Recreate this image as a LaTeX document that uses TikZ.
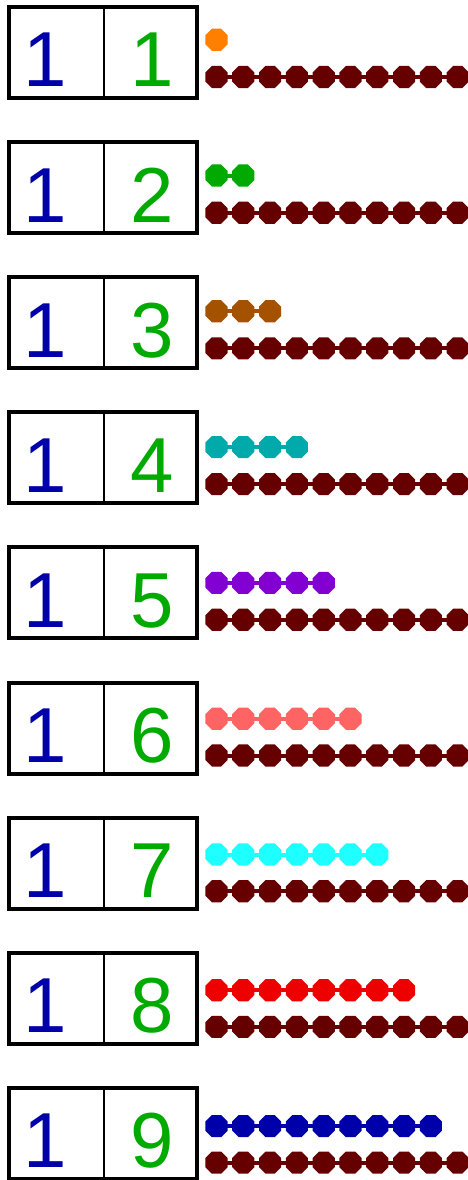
\documentclass[tikz,border=0pt]{standalone}
\usepackage{fontspec}
\setmainfont{Liberation Sans}
\usepackage{xcolor}
\usetikzlibrary{shapes.geometric}

% digit and bead colours
\definecolor{tensblue}{RGB}{0,0,170}
\definecolor{onesgreen}{RGB}{0,170,0}
\definecolor{tenbar}{RGB}{102,0,0}
\definecolor{beadone}{RGB}{255,128,0}
\definecolor{beadtwo}{RGB}{0,170,0}
\definecolor{beadthree}{RGB}{165,82,0}
\definecolor{beadfour}{RGB}{0,170,170}
\definecolor{beadfive}{RGB}{130,0,210}
\definecolor{beadsix}{RGB}{255,100,100}
\definecolor{beadseven}{RGB}{30,255,255}
\definecolor{beadeight}{RGB}{238,0,0}
\definecolor{beadnine}{RGB}{0,0,170}

\tikzset{
  bead/.style={regular polygon, regular polygon sides=8, minimum size=24pt,
    inner sep=0pt, fill=#1},
  digit/.style={anchor=base, inner sep=0pt, text depth=0pt,
    font=\fontsize{78}{78}\selectfont},
  cardbox/.style={draw=black, line width=4pt},
}

\begin{document}
\begin{tikzpicture}[x=1pt, y=-1pt]
  \useasboundingbox (0,0) rectangle (468,1180);
  % one row per teen number: card on the left, bead bars on the right
  \foreach \n/\col [count=\k] in {1/beadone, 2/beadtwo, 3/beadthree, 4/beadfour,
      5/beadfive, 6/beadsix, 7/beadseven, 8/beadeight, 9/beadnine} {
    \pgfmathsetmacro\rowtop{5+135.1*(\k-1)}
    \pgfmathsetmacro\unity{39.7+135.8*(\k-1)}
    \pgfmathsetmacro\teny{77+135.7*(\k-1)}
    % card
    \draw[cardbox] (9,\rowtop+2) rectangle (197,\rowtop+93);
    \draw[line width=2pt] (104,\rowtop+2) -- (104,\rowtop+93);
    \node[digit, text=tensblue] (tens\k) at (45,\rowtop+82) {1};
    \node[digit, text=onesgreen] (ones\k) at (152,\rowtop+82) {\n};
    % unit beads
    \foreach \i in {1,...,\n}
      \node[bead=\col] (u\k-\i) at ({216.5+26.8*(\i-1)},\unity) {};
    \draw[\col, line width=4pt] (u\k-1.center) -- (u\k-\n.center);
    % ten bar
    \foreach \i in {1,...,10}
      \node[bead=tenbar] (t\k-\i) at ({216.5+26.8*(\i-1)},\teny) {};
    \draw[tenbar, line width=4pt] (t\k-1.center) -- (t\k-10.center);
  }
\end{tikzpicture}
\end{document}
